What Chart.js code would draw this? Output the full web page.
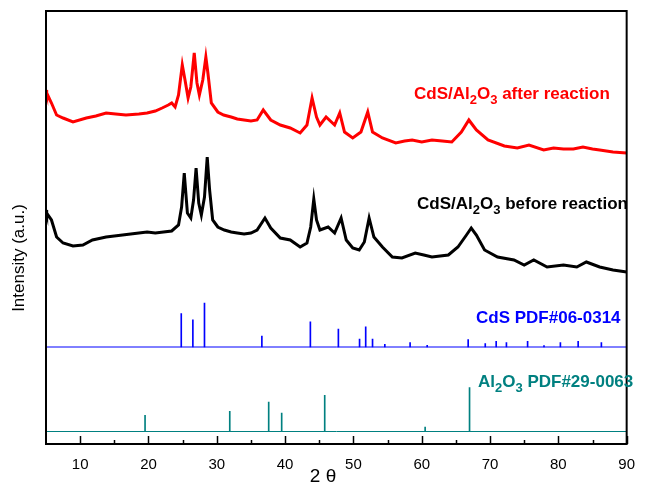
<!DOCTYPE html>
<html>
<head>
<meta charset="utf-8">
<script src="https://cdn.jsdelivr.net/npm/chart.js@4.4.0/dist/chart.umd.min.js"></script>
<style>
  html, body { margin: 0; padding: 0; background: #fff; }
</style>
</head>
<body>
<canvas id="xrdChart" width="647" height="487"></canvas>
<script>
// 2-theta ticks
const xTickLabels = [10, 20, 30, 40, 50, 60, 70, 80, 90];
const xMinorTicks = [15, 25, 35, 45, 55, 65, 75, 85];

// CdS/Al2O3 after reaction (offset intensity, a.u.)
const redTheta = [5.0, 5.1, 5.8, 6.55, 7.5, 8.95, 10.9, 12.3, 13.8, 15.2, 16.7, 18.6, 19.8, 21.0, 22.0, 22.9, 23.4, 23.9, 24.4,
  24.95, 25.35, 25.8, 26.2, 26.7, 27.1, 27.45, 27.95, 28.4, 28.7, 29.2, 30.15, 31.0, 32.1, 33.0, 34.0, 35.0, 35.9, 36.8, 37.9,
  39.3, 40.75, 42.2, 43.2, 43.95, 44.6, 45.1, 46.0, 47.25, 48.0, 48.7, 49.9, 51.1, 52.1, 52.8, 54.25, 56.2, 57.5, 58.6, 60.0,
  61.5, 63.0, 64.4, 65.8, 66.9, 68.0, 69.7, 72.1, 74.0, 75.7, 77.85, 79.3, 80.75, 82.2, 83.6, 85.0, 86.05, 88.0, 90.0];
const redI = [354, 351, 341, 329, 326, 322, 326, 328, 331, 330, 329, 330, 331, 333, 336, 339, 341, 337, 349,
  379, 364, 346, 357, 391, 361, 349, 364, 387, 371, 341, 332, 329, 327, 325, 324, 323, 324, 334, 324,
  319, 316, 311, 319, 346, 327, 319, 327, 319, 331, 312, 306, 312, 332, 312, 306, 301, 303, 304, 302,
  304, 303, 302, 312, 324, 314, 304, 298, 296, 299, 294, 296, 295, 295, 297, 295, 294, 292, 291];

// CdS/Al2O3 before reaction
const blackTheta = [5.0, 5.1, 5.8, 6.55, 7.5, 8.95, 10.4, 11.8, 13.8, 15.0, 16.2, 17.4, 18.6, 19.8, 21.0, 22.2, 23.4, 24.4,
  24.85, 25.24, 25.7, 26.2, 26.6, 26.97, 27.36, 27.74, 28.2, 28.6, 28.95, 29.4, 30.15, 31.1, 32.1, 33.0, 34.0, 35.0, 35.9,
  37.05, 37.9, 39.3, 40.75, 42.2, 43.2, 43.75, 44.2, 44.6, 45.1, 46.3, 47.25, 48.2, 48.95, 49.9, 50.85, 51.6, 52.3, 53.0,
  54.25, 55.7, 57.1, 59.05, 60.3, 61.5, 63.9, 65.3, 66.55, 67.25, 68.0, 69.2, 71.1, 73.5, 75.0, 76.4, 78.35, 80.75, 82.7,
  84.1, 86.05, 88.0, 90.0];
const blackI = [234, 231, 224, 207, 201, 198, 199, 204, 207, 208, 209, 210, 211, 212, 211, 212, 213, 219,
  237, 271, 231, 226, 244, 276, 241, 229, 247, 287, 254, 224, 217, 214, 212, 211, 210, 211, 214,
  226, 216, 206, 204, 197, 201, 217, 245, 224, 214, 217, 211, 226, 204, 196, 194, 202, 226, 207,
  197, 187, 186, 191, 189, 187, 189, 197, 209, 216, 209, 194, 187, 184, 179, 184, 177, 179, 177,
  182, 177, 174, 172];

// CdS PDF#06-0314 reference lines (relative intensity %)
const cdsTheta = [24.8, 26.5, 28.2, 36.6, 43.7, 47.8, 50.9, 51.8, 52.8, 54.6, 58.3, 60.8, 66.8, 69.3, 70.9, 72.4, 75.5, 77.9, 80.3, 82.9, 86.3];
const cdsRel = [76, 62, 100, 25, 57, 41, 18, 46, 18, 6, 10, 4, 17, 8, 13, 10, 13, 3, 10, 13, 10];

// Al2O3 PDF#29-0063 reference lines
const alTheta = [19.5, 31.9, 37.6, 39.5, 45.8, 60.5, 67.0];
const alRel = [37, 46, 67, 42, 82, 10, 100];

// baselines of the two reference patterns and stick scale (a.u. per %)
const cdsBase = 97;
const alBase = 12.5;
const stickScale = 0.44;

const BLUE = '#0000ff';
const TEAL = '#008080';

const textLabels = [
  { parts: [['CdS/Al', 0], ['2', 1], ['O', 0], ['3', 1], [' after reaction', 0]], x: 414, y: 99, color: '#ff0000' },
  { parts: [['CdS/Al', 0], ['2', 1], ['O', 0], ['3', 1], [' before reaction', 0]], x: 417, y: 209, color: '#000000' },
  { parts: [['CdS PDF#06-0314', 0]], x: 476, y: 323, color: BLUE },
  { parts: [['Al', 0], ['2', 1], ['O', 0], ['3', 1], [' PDF#29-0063', 0]], x: 478, y: 387, color: TEAL }
];

function toPoints(xs, ys) {
  return xs.map((x, i) => ({ x: x, y: ys[i] }));
}

function toSticks(xs, rel, base) {
  return xs.map((x, i) => ({ x: x, y: [base, base + rel[i] * stickScale] }));
}

const decorPlugin = {
  id: 'decor',
  afterDraw(chart) {
    const ctx = chart.ctx;
    const area = chart.chartArea;
    const xs = chart.scales.x;
    ctx.save();

    // inward ticks on the bottom axis
    ctx.strokeStyle = '#000';
    ctx.lineWidth = 1.5;
    xTickLabels.forEach(v => {
      const px = Math.round(xs.getPixelForValue(v)) + 0.5;
      ctx.beginPath();
      ctx.moveTo(px, area.bottom);
      ctx.lineTo(px, area.bottom - 8);
      ctx.stroke();
    });
    xMinorTicks.forEach(v => {
      const px = Math.round(xs.getPixelForValue(v)) + 0.5;
      ctx.beginPath();
      ctx.moveTo(px, area.bottom);
      ctx.lineTo(px, area.bottom - 4);
      ctx.stroke();
    });

    // frame
    ctx.lineWidth = 2;
    ctx.strokeRect(area.left, area.top, area.right - area.left, area.bottom - area.top);

    // series labels with subscripts
    textLabels.forEach(lbl => {
      let x = lbl.x;
      ctx.fillStyle = lbl.color;
      ctx.textBaseline = 'alphabetic';
      lbl.parts.forEach(([txt, sub]) => {
        ctx.font = sub ? 'bold 13px "Liberation Sans", Arial, sans-serif' : 'bold 17px "Liberation Sans", Arial, sans-serif';
        ctx.fillText(txt, x, lbl.y + (sub ? 5 : 0));
        x += ctx.measureText(txt).width;
      });
    });

    // axis titles
    ctx.fillStyle = '#000';
    ctx.textAlign = 'center';
    ctx.textBaseline = 'middle';
    ctx.font = '19px "Liberation Sans", Arial, sans-serif';
    ctx.fillText('2 θ', 323, 477);
    ctx.translate(19, 258);
    ctx.rotate(-Math.PI / 2);
    ctx.font = '17px "Liberation Sans", Arial, sans-serif';
    ctx.fillText('Intensity (a.u.)', 0, 0);
    ctx.restore();
  }
};

new Chart(document.getElementById('xrdChart').getContext('2d'), {
  data: {
    datasets: [
      {
        type: 'line',
        label: 'after reaction',
        data: toPoints(redTheta, redI),
        borderColor: '#ff0000',
        borderWidth: 3,
        pointRadius: 0,
        tension: 0
      },
      {
        type: 'line',
        label: 'before reaction',
        data: toPoints(blackTheta, blackI),
        borderColor: '#000000',
        borderWidth: 3,
        pointRadius: 0,
        tension: 0
      },
      {
        type: 'line',
        label: 'CdS base',
        data: [{ x: 5, y: cdsBase }, { x: 90, y: cdsBase }],
        borderColor: BLUE,
        borderWidth: 1,
        pointRadius: 0
      },
      {
        type: 'bar',
        label: 'CdS PDF#06-0314',
        data: toSticks(cdsTheta, cdsRel, cdsBase),
        backgroundColor: BLUE,
        barThickness: 1,
        grouped: false
      },
      {
        type: 'line',
        label: 'Al2O3 base',
        data: [{ x: 5, y: alBase }, { x: 90, y: alBase }],
        borderColor: TEAL,
        borderWidth: 1,
        pointRadius: 0
      },
      {
        type: 'bar',
        label: 'Al2O3 PDF#29-0063',
        data: toSticks(alTheta, alRel, alBase),
        backgroundColor: TEAL,
        barThickness: 1,
        grouped: false
      }
    ]
  },
  plugins: [decorPlugin],
  options: {
    responsive: false,
    animation: false,
    layout: { padding: { top: 11, right: 13, left: 0, bottom: 0 } },
    plugins: { legend: { display: false }, tooltip: { enabled: false } },
    scales: {
      x: {
        type: 'linear',
        min: 5,
        max: 90,
        offset: false,
        grid: { display: false, drawTicks: false, offset: false },
        border: { display: false },
        afterBuildTicks: s => { s.ticks = xTickLabels.map(v => ({ value: v })); },
        afterFit: s => { s.height = 43; },
        ticks: {
          padding: 12,
          color: '#000',
          font: { size: 15, family: '"Liberation Sans", Arial, sans-serif' },
          maxRotation: 0
        }
      },
      y: {
        type: 'linear',
        min: 0,
        max: 433,
        grid: { display: false, drawTicks: false },
        border: { display: false },
        ticks: { display: false },
        afterFit: s => { s.width = 46; }
      }
    }
  }
});
</script>
</body>
</html>
